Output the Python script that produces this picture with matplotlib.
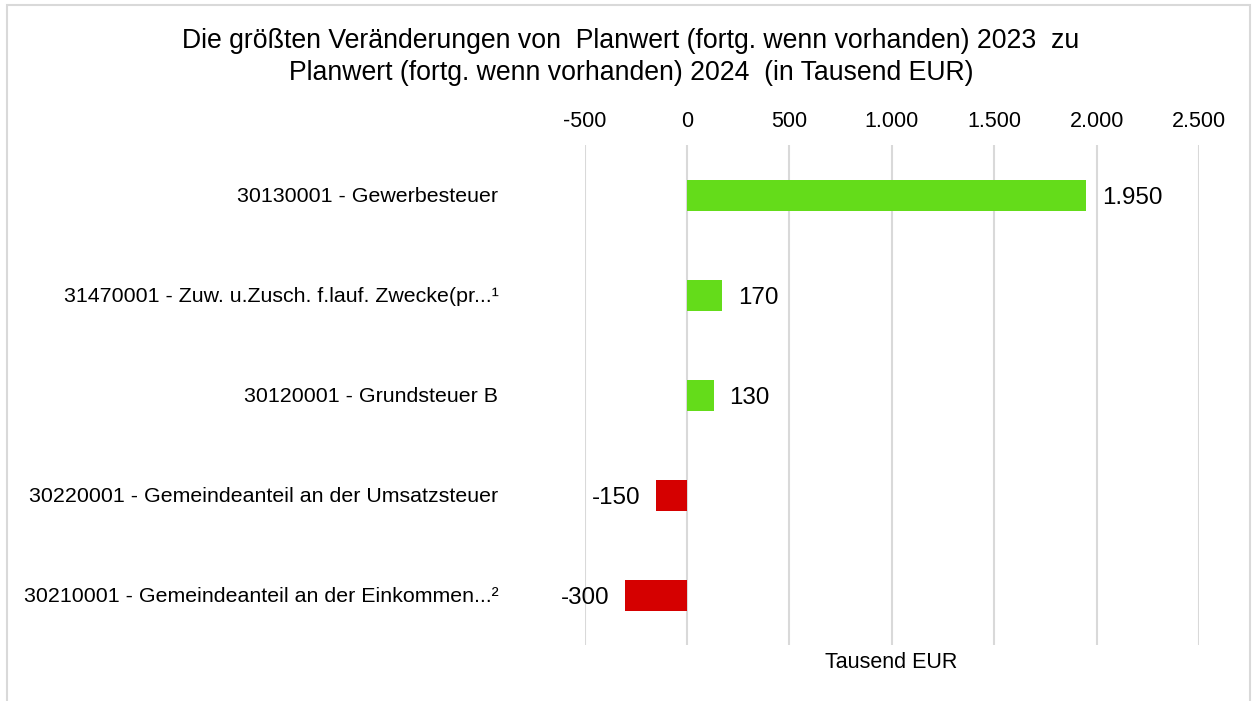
import matplotlib
matplotlib.use("Agg")
import matplotlib.pyplot as plt
from matplotlib.ticker import FuncFormatter
from matplotlib.patches import Rectangle

categories = [
    "30130001 - Gewerbesteuer",
    "31470001 - Zuw. u.Zusch. f.lauf. Zwecke(pr...\u00b9",
    "30120001 - Grundsteuer B",
    "30220001 - Gemeindeanteil an der Umsatzsteuer",
    "30210001 - Gemeindeanteil an der Einkommen...\u00b2",
]
values = [1950, 170, 130, -150, -300]
xticks = [-500, 0, 500, 1000, 1500, 2000, 2500]
title_lines = ["Die größten Veränderungen von  Planwert (fortg. wenn vorhanden) 2023  zu",
               "Planwert (fortg. wenn vorhanden) 2024  (in Tausend EUR)"]
xlabel = "Tausend EUR"

GREEN = "#64DC1A"
RED = "#D50000"

plt.rcParams['font.family'] = ['Liberation Sans', 'DejaVu Sans']

def de_fmt(v, pos=None):
    s = f"{abs(int(round(v))):,}".replace(",", ".")
    return ("-" if v < 0 else "") + s

fig = plt.figure(figsize=(12.55, 7.01), dpi=100)
fig.patches.append(Rectangle((7/1255, -0.1), (1250-7)/1255, 1.1 - 5/701,
                             transform=fig.transFigure, fill=False,
                             edgecolor="#d9d9d9", linewidth=1.5))
ax = fig.add_axes([584.5/1255, 1-645/701, (1199-584.5)/1255, (645-145)/701])

y = list(range(len(categories)))
colors = [GREEN if v >= 0 else RED for v in values]
ax.barh(y, values, height=0.31, color=colors, zorder=3)
ax.set_ylim(len(categories) - 0.5, -0.5)
ax.set_xlim(-500, 2500)
ax.set_xticks(xticks)
ax.xaxis.set_major_formatter(FuncFormatter(de_fmt))
ax.xaxis.tick_top()
ax.tick_params(axis='x', length=0, pad=9.5, labelsize=15.5, colors="#000000")
ax.set_yticks(y)
ax.set_yticklabels(categories)
ax.tick_params(axis='y', length=0, pad=62, labelsize=15.4)
ax.grid(axis='x', color="#d9d9d9", linewidth=1.5, zorder=0)
for s in ax.spines.values():
    s.set_visible(False)

for yi, v in zip(y, values):
    if v >= 0:
        ax.annotate(de_fmt(v), (v, yi), xytext=(11.5, 0), textcoords='offset points',
                    ha='left', va='center_baseline', fontsize=17.4)
    else:
        ax.annotate(de_fmt(v), (v, yi), xytext=(-11.5, 0), textcoords='offset points',
                    ha='right', va='center_baseline', fontsize=17.4)

fig.text(891.5/1255, 1-663/701, xlabel, ha='center', va='center', fontsize=15.5)
for line, base in zip(title_lines, [48, 80]):
    fig.text(631/1255, 1-base/701, line, ha='center', va='baseline', fontsize=19.2)

fig.savefig("out.png", dpi=100)
